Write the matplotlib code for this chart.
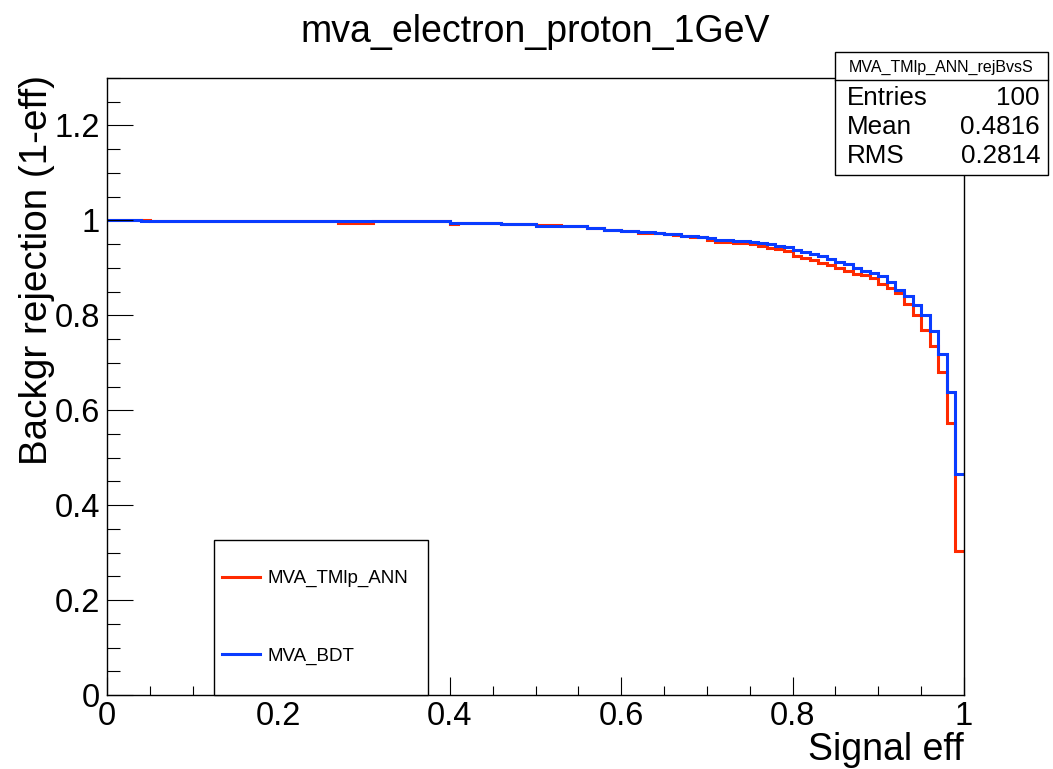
import matplotlib
matplotlib.use("Agg")
import matplotlib.pyplot as plt
from matplotlib.patches import Rectangle
from matplotlib.ticker import MultipleLocator, FuncFormatter
import numpy as np

plt.rcParams['font.family'] = ['Liberation Sans', 'DejaVu Sans']

# 100 bins of signal efficiency, 0..1
bin_edges = np.linspace(0, 1, 101)

# background rejection per bin
ann_rej = ([1.0] * 5 + [0.998] * 22 + [0.995] * 4 + [0.998] * 9 + [0.993]
           + [0.995] * 5 + [0.992] * 4 + [0.991] * 3 + [0.988] * 3
           + [0.984] * 2 + [0.980] * 2 + [0.978] * 2 + [0.974] * 3
           + [0.972, 0.970, 0.968, 0.965, 0.964, 0.958, 0.955, 0.955, 0.952, 0.952]
           + [0.951, 0.946, 0.942, 0.940, 0.935, 0.926, 0.921, 0.916, 0.910, 0.905,
              0.900, 0.893, 0.886, 0.884, 0.879, 0.866, 0.857, 0.846, 0.823, 0.801,
              0.768, 0.735, 0.680, 0.573, 0.304])
bdt_rej = ([1.0] * 4 + [0.998] * 36 + [0.995] * 6 + [0.992] * 4 + [0.988] * 6
           + [0.984] * 2 + [0.980] * 2 + [0.978] * 2 + [0.976] * 2 + [0.974]
           + [0.972] * 2 + [0.968] * 2 + [0.965, 0.962, 0.959, 0.959, 0.957, 0.957]
           + [0.955, 0.953, 0.951, 0.947, 0.944, 0.938, 0.933, 0.930, 0.9245, 0.919,
              0.912, 0.909, 0.900, 0.893, 0.889, 0.882, 0.871, 0.854, 0.840, 0.821,
              0.801, 0.767, 0.719, 0.639, 0.465])

series_names = ["MVA_TMlp_ANN", "MVA_BDT"]
series_colors = ["#ff2a00", "#0a3cff"]

stats_title = "MVA_TMlp_ANN_rejBvsS"
stats_rows = [("Entries", "100"), ("Mean", "0.4816"), ("RMS", "0.2814")]

W, H = 1053, 769
fig = plt.figure(figsize=(W / 100, H / 100), dpi=100)
ax = fig.add_axes([107 / W, 1 - 695 / H, (964 - 107) / W, (695 - 78) / H])

for vals, name, col in zip([ann_rej, bdt_rej], series_names, series_colors):
    ax.stairs(vals, bin_edges, baseline=None, color=col, linewidth=2.2, label=name)

ax.set_xlim(0, 1)
ax.set_ylim(0, 1.3)

ax.xaxis.set_major_locator(MultipleLocator(0.2))
ax.xaxis.set_minor_locator(MultipleLocator(0.05))
ax.yaxis.set_major_locator(MultipleLocator(0.2))
ax.yaxis.set_minor_locator(MultipleLocator(0.05))
fmt = FuncFormatter(lambda v, p: f"{v:g}")
ax.xaxis.set_major_formatter(fmt)
ax.yaxis.set_major_formatter(fmt)

ax.tick_params(axis='x', which='major', direction='in', length=13.3, width=0.8, labelsize=23.5, pad=4)
ax.tick_params(axis='x', which='minor', direction='in', length=6.7, width=0.8)
ax.tick_params(axis='y', which='major', direction='in', length=18.5, width=0.8, labelsize=23.5, pad=5)
ax.tick_params(axis='y', which='minor', direction='in', length=9.3, width=0.8)
ax.tick_params(top=False, right=False, which='both')
for sp in ax.spines.values():
    sp.set_linewidth(1.0)

ax.set_xlabel("Signal eff", loc='right', fontsize=27, labelpad=0)
ax.set_ylabel("Backgr rejection (1-eff)", loc='top', fontsize=27.8, labelpad=0)
ax.yaxis.label.set_position((0, 1 + 3 / 617))
ax.set_title("mva_electron_proton_1GeV", fontsize=27, pad=26)

# legend frame drawn as its own box, entries placed inside without a frame
ax.add_patch(Rectangle((0.125, 0.0), 0.2495, 0.251, transform=ax.transAxes,
                       facecolor='white', edgecolor='black', linewidth=1.0,
                       zorder=4, clip_on=False))
leg = ax.legend(loc='upper left', bbox_to_anchor=(0.1342, 0.2026),
                borderaxespad=0, borderpad=0, fontsize=13.5, handlelength=2.0,
                handletextpad=0.43, labelspacing=3.22, frameon=False)
leg.set_zorder(5)

# stats box in the top right corner
fig.add_artist(Rectangle((835 / W, 1 - 175 / H), (1048 - 835) / W, (175 - 52) / H,
                         transform=fig.transFigure, facecolor='white',
                         edgecolor='black', linewidth=1.0, zorder=10))
fig.add_artist(plt.Line2D([835 / W, 1048 / W], [1 - 80 / H, 1 - 80 / H],
                          transform=fig.transFigure, color='black', linewidth=1.0, zorder=11))
fig.text(941.5 / W, 1 - 71.5 / H, stats_title, ha='center', va='baseline',
         fontsize=11.5, zorder=12)
for i, (lab, val) in enumerate(stats_rows):
    yb = 1 - (105 + 29 * i) / H
    fig.text(847 / W, yb, lab, ha='left', va='baseline', fontsize=18.7, zorder=12)
    fig.text(1040 / W, yb, val, ha='right', va='baseline', fontsize=18.7, zorder=12)

fig.savefig("out.png", dpi=100)
